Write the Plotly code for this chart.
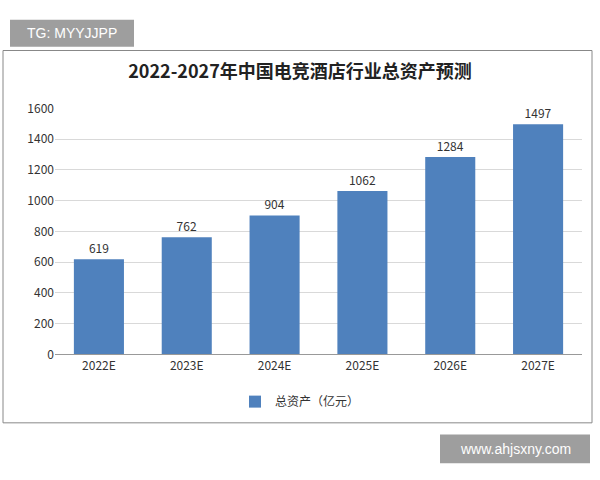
import plotly.graph_objects as go

categories = ["2022E", "2023E", "2024E", "2025E", "2026E", "2027E"]
values = [619, 762, 904, 1062, 1284, 1497]
series_name = "总资产（亿元）"
title = "2022-2027年中国电竞酒店行业总资产预测"

W, H = 600, 480
def px(x): return x / W
def py(y): return 1 - y / H

fig = go.Figure(go.Bar(
    x=categories, y=values, name=series_name,
    marker=dict(color="#4f81bd", line=dict(width=0)),
    text=values, textposition="outside", cliponaxis=False,
    textfont=dict(size=12, color="#333", family="Noto Sans CJK SC"),
    width=0.57,
))
fig.update_layout(
    width=W, height=H, margin=dict(l=0, r=0, t=0, b=0),
    paper_bgcolor="white", plot_bgcolor="white",
    font=dict(family="Noto Sans CJK SC", color="#333"),
    title=dict(text=title, x=0.5, xanchor="center", y=py(72), yanchor="middle",
               font=dict(size=18, color="#222", weight="bold")),
    xaxis=dict(domain=[px(55), px(582)], showline=True, linecolor="#999",
               tickfont=dict(size=12), ticks=""),
    yaxis=dict(domain=[py(357), py(102)], range=[0, 1600], dtick=200,
               showgrid=True, gridcolor="#d9d9d9", tickfont=dict(size=12),
               zeroline=False),
    showlegend=True,
    legend=dict(orientation="h", x=0.5, xanchor="center", y=py(406), yanchor="middle",
                font=dict(size=12), itemwidth=30),
    shapes=[
        dict(type="rect", xref="paper", yref="paper", x0=px(3), x1=px(592),
             y0=py(428), y1=py(42), line=dict(color="#888", width=1)),
        dict(type="rect", xref="paper", yref="paper", x0=px(10), x1=px(134),
             y0=py(38), y1=py(10), fillcolor="#9e9e9e", line=dict(width=0)),
        dict(type="rect", xref="paper", yref="paper", x0=px(440), x1=px(590),
             y0=py(470), y1=py(440), fillcolor="#9e9e9e", line=dict(width=0)),
    ],
    annotations=[
        dict(text="TG: MYYJJPP", xref="paper", yref="paper", x=px(72), y=py(24),
             xanchor="center", yanchor="middle",
             showarrow=False, font=dict(size=14, color="white", family="Liberation Sans")),
        dict(text="www.ahjsxny.com", xref="paper", yref="paper", x=px(515), y=py(455),
             xanchor="center", yanchor="middle",
             showarrow=False, font=dict(size=14, color="white", family="Liberation Sans")),
    ],
)
fig.write_html("out.html", config={"displayModeBar": False},
               post_script="document.body.style.margin='0';document.body.style.overflow='hidden';")
